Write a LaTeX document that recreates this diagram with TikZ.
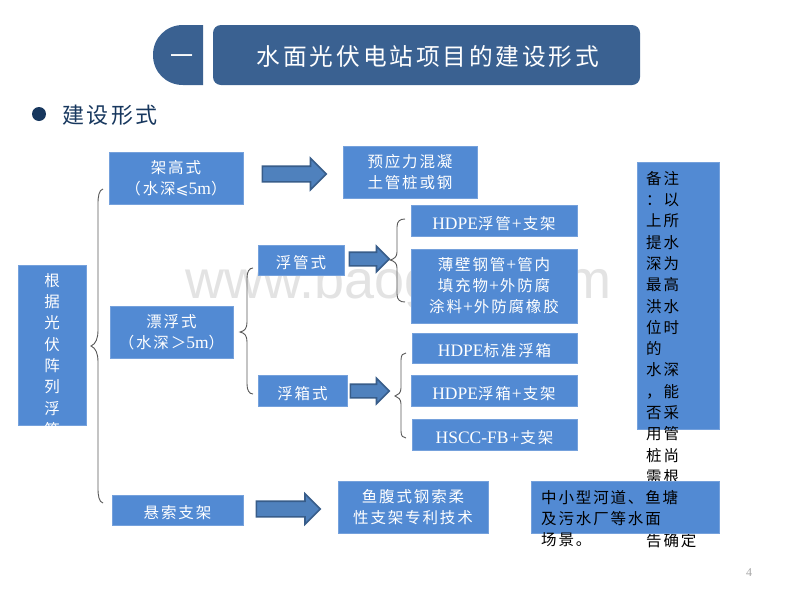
\documentclass[tikz,border=0pt]{standalone}
\usepackage{fontspec}
\usetikzlibrary{shapes.arrows}
\setmainfont{Noto Sans CJK SC}[LetterSpace=12]
\newfontfamily\latf{Liberation Serif}
\newfontfamily\markf{DejaVu Sans}
\newfontfamily\wmf{Liberation Sans}
\newcommand{\lat}[1]{{\latf\fontsize{17.5}{21}\selectfont #1}}
\newcommand{\pls}{\hspace{1pt}{\latf\fontsize{17.5}{21}\selectfont +}\hspace{1pt}}
\definecolor{boxblue}{HTML}{528AD3}
\definecolor{titleblue}{HTML}{3A6191}
\definecolor{navy}{HTML}{17375E}
\definecolor{arrowfill}{HTML}{4F81BD}
\definecolor{arrowedge}{HTML}{385D8A}
\definecolor{bracegray}{HTML}{595959}
\tikzset{
 x=1pt,y=-1pt,
 bluebox/.style={fill=boxblue,draw=boxblue!80!white,line width=0.4pt,text=white,font=\fontsize{15.5}{21}\selectfont,align=center,inner sep=0pt,execute at begin node={\rule{0pt}{19pt}}},
 blockarrow/.style={single arrow,fill=arrowfill,draw=arrowedge,line width=1.6pt,single arrow head extend=#1,single arrow tip angle=90,inner sep=0pt,anchor=tail},
 bracket/.style={draw=bracegray,line width=0.9pt},
 darktext/.style={text=black,font=\fontsize{15.5}{21.3}\selectfont,align=left,inner sep=0pt,anchor=north west},
}
\begin{document}
\begin{tikzpicture}
\useasboundingbox (0,0) rectangle (800,600);
\fill[white] (0,0) rectangle (800,600);
% watermark
\node[text=black!11,font=\wmf\fontsize{54}{54}\selectfont,inner sep=0pt] (wm) at (398.5,285) {www.baogao.com};
% title
\fill[titleblue] (203,25) -- (183,25) .. controls (166,25) and (153,38) .. (153,55) .. controls (153,72) and (166,85) .. (183,85) -- (203,85) -- cycle;
\node[text=white,font=\fontsize{23}{23}\selectfont,inner sep=0pt] (one) at (181.5,60) {一};
\fill[titleblue,rounded corners=8pt] (213,25) rectangle (640,85);
\node[text=white,font=\fontsize{23.7}{24}\selectfont,inner sep=0pt] (title) at (428,57) {水面光伏电站项目的建设形式};
% heading
\fill[navy] (39,114) circle[radius=7];
\node[text=navy,font=\fontsize{22}{22}\selectfont,inner sep=0pt] (head) at (110,115) {建设形式};
% boxes
\node[bluebox,minimum width=134,minimum height=52] (jia) at (176,178) {架高式\\（水深{\markf ⩽}\lat{5m}）};
\node[bluebox,minimum width=134,minimum height=52] (yu) at (410,172) {预应力混凝\\土管桩或钢};
\node[bluebox,minimum width=166,minimum height=31] (hp) at (494,220.5) {\lat{HDPE}浮管\pls 支架};
\node[bluebox,minimum width=166,minimum height=74] (bo) at (494,286) {薄壁钢管\pls 管内\\填充物\pls 外防腐\\涂料\pls 外防腐橡胶};
\node[bluebox,minimum width=165,minimum height=30] (hb) at (494.5,348) {\lat{HDPE}标准浮箱};
\node[bluebox,minimum width=166,minimum height=31] (hf) at (494,390.5) {\lat{HDPE}浮箱\pls 支架};
\node[bluebox,minimum width=165,minimum height=31] (hs) at (494.5,434.5) {\lat{HSCC-FB}\pls 支架};
\node[bluebox,minimum width=123,minimum height=52] (pi) at (171.5,332) {漂浮式\\（水深＞\lat{5m}）};
\node[bluebox,minimum width=86,minimum height=30] (fg) at (301,260) {浮管式};
\node[bluebox,minimum width=89,minimum height=31] (fx) at (302.5,390.5) {浮箱式};
\node[bluebox,minimum width=131,minimum height=30] (xu) at (177.5,510) {悬索支架};
\node[bluebox,minimum width=150,minimum height=52] (ft) at (413,507) {鱼腹式钢索柔\\性支架专利技术};
% left box with text clipped at its lower edge
\node[bluebox,minimum width=68,minimum height=160] (gen) at (52,345) {};
\begin{scope}
\clip (gen.north west) rectangle (gen.south east);
\node[text=white,font=\fontsize{15.5}{21.35}\selectfont,align=center,inner sep=0pt,anchor=north] (gent) at (52,273) {根\\据\\光\\伏\\阵\\列\\浮\\箱};
\end{scope}
% remark
\node[bluebox,minimum width=82,minimum height=267] (rem) at (678,295.5) {};
\node[darktext] (remt) at (646,171) {备注\\：以\\上所\\提水\\深为\\最高\\洪水\\位时\\的\\水深\\，能\\否采\\用管\\桩尚\\需根\\\mbox{}\\\mbox{}\\告确定};
\node[bluebox,minimum width=188,minimum height=52] (zh) at (625,507) {};
\node[darktext] (zht) at (541,490) {中小型河道、鱼塘\\及污水厂等水面\\场景。};
% block arrows
\node[blockarrow=8,minimum height=64] (a1) at (261.5,174) {\rule{0pt}{14pt}};
\node[blockarrow=6,minimum height=40] (a2) at (348.5,259) {\rule{0pt}{12pt}};
\node[blockarrow=6,minimum height=39] (a3) at (349.5,391) {\rule{0pt}{12pt}};
\node[blockarrow=7.5,minimum height=64] (a4) at (255.5,509) {\rule{0pt}{14pt}};
% braces
\coordinate (b1a) at (103,189); \coordinate (b1t) at (91,346); \coordinate (b1b) at (103,503);
\coordinate (b2a) at (253,268); \coordinate (b2t) at (240,332); \coordinate (b2b) at (253,394);
\coordinate (b3a) at (405,219); \coordinate (b3t) at (390,260); \coordinate (b3b) at (405,302);
\coordinate (b4a) at (406,353); \coordinate (b4t) at (395,396); \coordinate (b4b) at (406,438);
\draw[bracket] (b1a) .. controls (99,190) and (98,196) .. (98,204) -- (98,330) .. controls (98,338) and (96,344) .. (b1t) .. controls (96,348) and (98,354) .. (98,362) -- (98,488) .. controls (98,496) and (99,502) .. (b1b);
\draw[bracket] (b2a) .. controls (249,268) and (247,272) .. (247,278) -- (247,322) .. controls (247,328) and (245,331) .. (b2t) .. controls (245,333) and (247,336) .. (247,342) -- (247,384) .. controls (247,390) and (249,394) .. (b2b);
\draw[bracket] (b3a) .. controls (400,219) and (397,221) .. (397,227) -- (397,252) .. controls (397,257) and (394,259) .. (b3t) .. controls (394,261) and (397,263) .. (397,268) -- (397,294) .. controls (397,300) and (400,302) .. (b3b);
\draw[bracket] (b4a) .. controls (403,353) and (401,355) .. (401,360) -- (401,388) .. controls (401,393) and (398,395) .. (b4t) .. controls (398,397) and (401,399) .. (401,404) -- (401,431) .. controls (401,436) and (403,438) .. (b4b);
% page number
\node[text=black!35,font=\latf\fontsize{12}{12}\selectfont,inner sep=0pt] (pg) at (749,573) {4};
\end{tikzpicture}
\end{document}
